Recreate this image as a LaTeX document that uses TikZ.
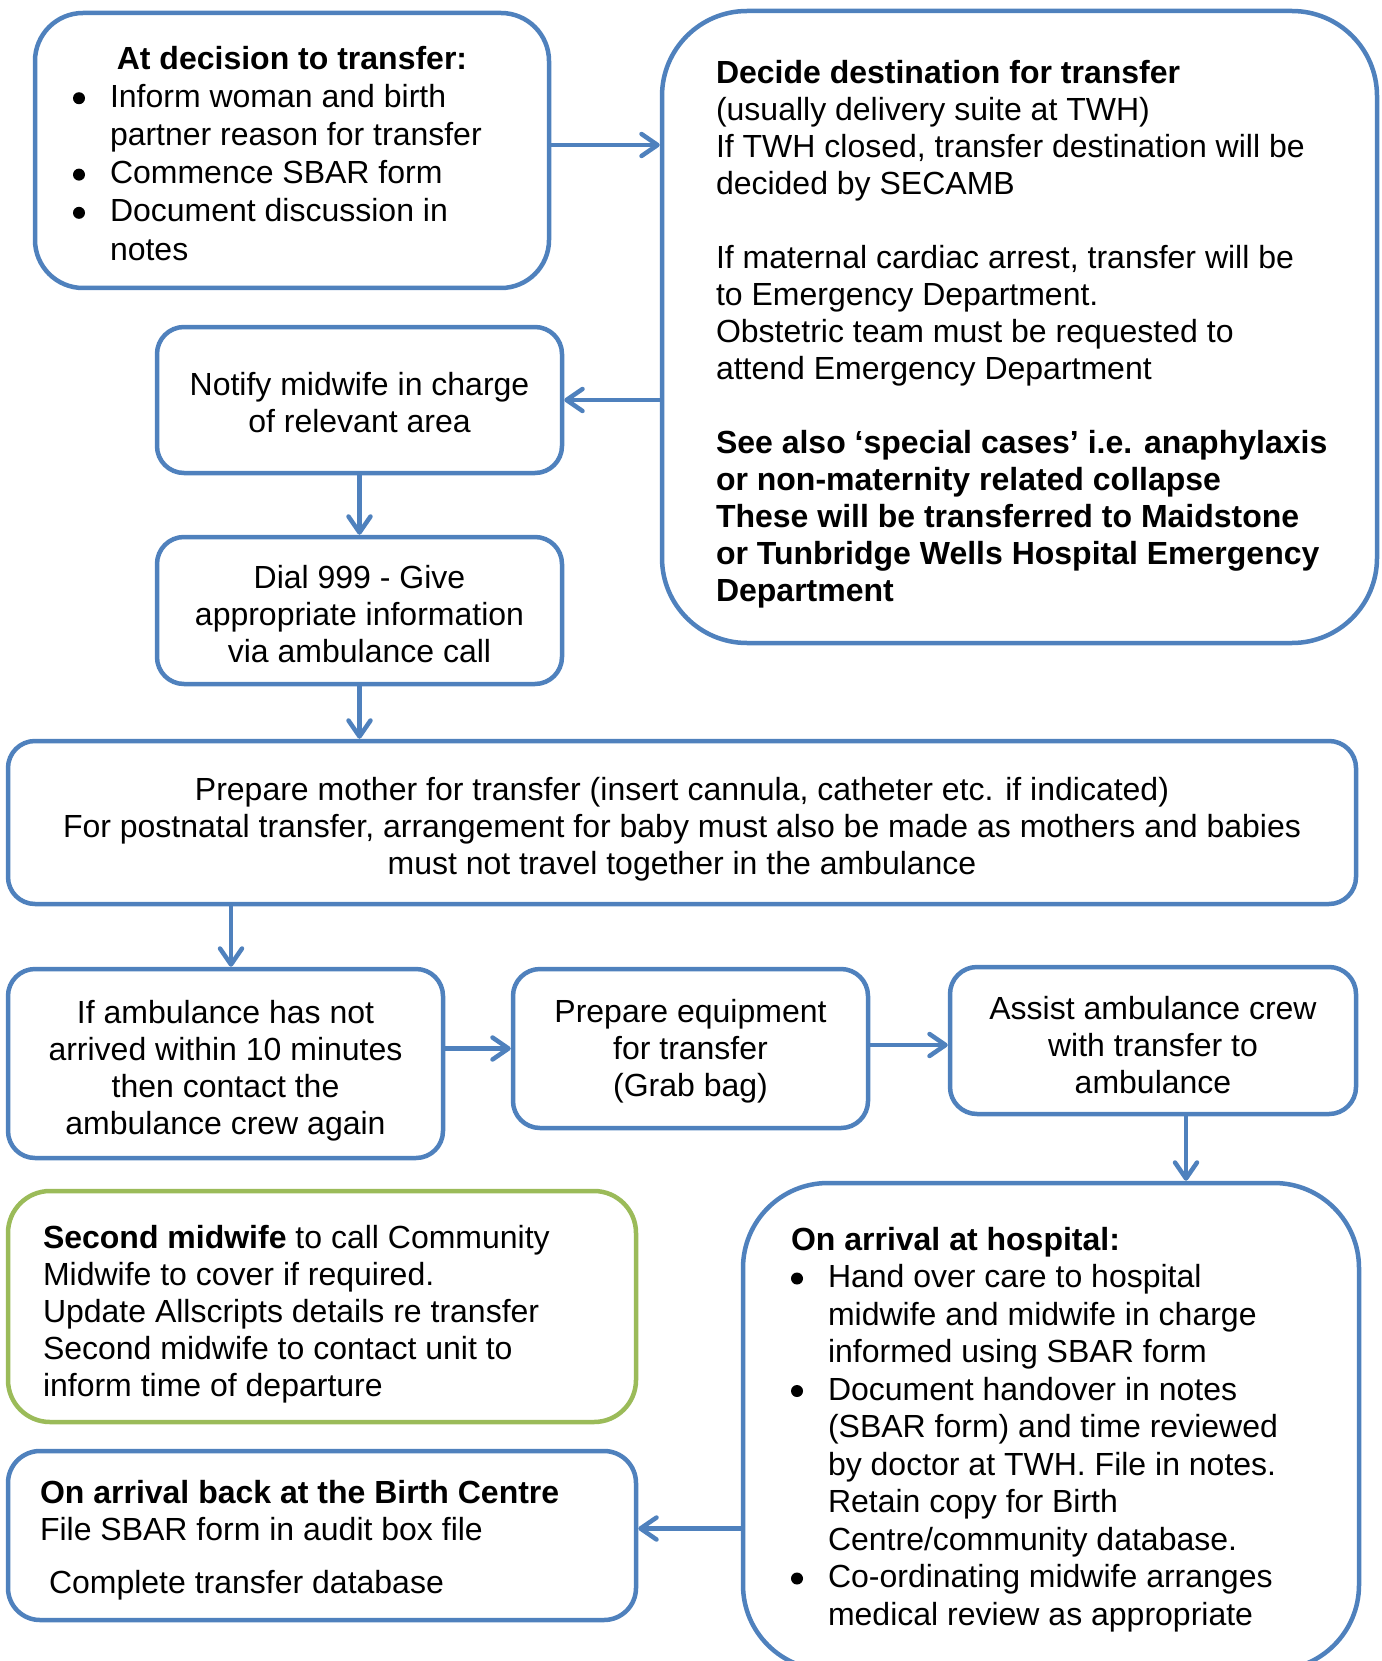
\documentclass[tikz,border=0pt]{standalone}
\usepackage{fontspec}
\setmainfont{Liberation Sans}
\usetikzlibrary{arrows.meta}
\definecolor{bblue}{HTML}{4F81BD}
\definecolor{bgreen}{HTML}{9BBB59}
\newcommand{\blt}{\makebox[37pt][l]{\tikz[baseline=0pt]\fill[black] (6pt,9pt) circle[radius=6pt];}}
\newcommand{\LB}[2]{\makebox[#1][l]{\begin{tabular}{@{}l@{}}#2\end{tabular}}}
\newcommand{\CB}[1]{\begin{tabular}{@{}c@{}}#1\end{tabular}}
\newcommand{\Dn}[2]{\raisebox{0pt}[\dimexpr\height+#1\relax][\depth]{#2}}
\begin{document}
\begin{tikzpicture}[x=1pt,y=-1pt,
  box/.style={draw=bblue, line width=4.5pt, fill=white, inner sep=0pt,
    font=\fontsize{32}{37}\selectfont},
  arr/.style={draw=bblue, line width=4.5pt,
    -{Straight Barb[length=16pt,width=22pt,round]}}]
\useasboundingbox (0,0) rectangle (1381,1661);

\node[box, rounded corners=48pt, minimum width=514pt, minimum height=275pt,
  font=\fontsize{32}{38.2}\selectfont] (A) at (292,150.5)
 {\Dn{12.8pt}{\makebox[438pt][l]{\begin{tabular}{@{}l@{}l@{}}
  \multicolumn{2}{@{}c@{}}{\makebox[438pt]{\bfseries At decision to transfer:}}\\
  \blt & Inform woman and birth\\
       & partner reason for transfer\\
  \blt & Commence SBAR form\\
  \blt & Document discussion in\\
       & notes
  \end{tabular}}}};

\node[box, rounded corners=85pt, minimum width=715pt, minimum height=632pt] (B) at (1019.5,327)
 {\Dn{17pt}{\LB{607pt}{\textbf{Decide destination for transfer}\\
  (usually delivery suite at TWH)\\
  If TWH closed, transfer destination will be\\
  decided by SECAMB\\
  \\
  If maternal cardiac arrest, transfer will be\\
  to Emergency Department.\\
  Obstetric team must be requested to\\
  attend Emergency Department\\
  \\
  \textbf{See also ‘special cases’ i.e. anaphylaxis}\\
  \textbf{or non-maternity related collapse}\\
  \textbf{These will be transferred to Maidstone}\\
  \textbf{or Tunbridge Wells Hospital Emergency}\\
  \textbf{Department}}}};

\node[box, rounded corners=27pt, minimum width=405pt, minimum height=146pt] (C) at (359.5,400)
 {\Dn{12.7pt}{\CB{Notify midwife in charge\\ of relevant area}}};

\node[box, rounded corners=27pt, minimum width=405pt, minimum height=147pt] (D) at (359.5,610.5)
 {\Dn{15pt}{\CB{Dial 999 - Give\\ appropriate information\\ via ambulance call}}};

\node[box, rounded corners=27pt, minimum width=1348pt, minimum height=163pt] (E) at (682,822.5)
 {\Dn{15pt}{\CB{Prepare mother for transfer (insert cannula, catheter etc. if indicated)\\
  For postnatal transfer, arrangement for baby must also be made as mothers and babies\\
  must not travel together in the ambulance}}};

\node[box, rounded corners=27pt, minimum width=435pt, minimum height=189pt] (F) at (225.5,1063.5)
 {\Dn{17pt}{\CB{If ambulance has not\\ arrived within 10 minutes\\ then contact the\\ ambulance crew again}}};

\node[box, rounded corners=27pt, minimum width=355pt, minimum height=159pt] (G) at (690.5,1048.5)
 {\Dn{6.4pt}{\CB{Prepare equipment\\ for transfer\\ (Grab bag)}}};

\node[box, rounded corners=27pt, minimum width=406pt, minimum height=147pt] (H) at (1153,1040.5)
 {\Dn{17pt}{\CB{Assist ambulance crew\\ with transfer to\\ ambulance}}};

\node[box, rounded corners=85pt, minimum width=616pt, minimum height=487pt,
  font=\fontsize{32}{37.5}\selectfont] (I) at (1051,1426.5)
 {\Dn{7pt}{\makebox[520pt][l]{\begin{tabular}{@{}l@{}l@{}}
  \multicolumn{2}{@{}l@{}}{\bfseries On arrival at hospital:}\\
  \blt & Hand over care to hospital\\
       & midwife and midwife in charge\\
       & informed using SBAR form\\
  \blt & Document handover in notes\\
       & (SBAR form) and time reviewed\\
       & by doctor at TWH. File in notes.\\
       & Retain copy for Birth\\
       & Centre/community database.\\
  \blt & Co-ordinating midwife arranges\\
       & medical review as appropriate
  \end{tabular}}}};

\node[box, draw=bgreen, rounded corners=42pt, minimum width=628pt, minimum height=231pt] (J) at (322,1306.5)
 {\Dn{17pt}{\LB{558pt}{\textbf{Second midwife} to call Community\\
  Midwife to cover if required.\\
  Update Allscripts details re transfer\\
  Second midwife to contact unit to\\
  inform time of departure}}};

\node[box, rounded corners=32pt, minimum width=628pt, minimum height=169pt] (K) at (322,1535.5)
 {\Dn{10.6pt}{\LB{564pt}{\textbf{On arrival back at the Birth Centre}\\
  File SBAR form in audit box file\\[16pt]
  \hspace*{9pt}Complete transfer database}}};

\coordinate (ab) at ([yshift=5.5pt]A.east);
\draw[arr] (ab) -- (ab -| B.west);
\draw[arr] (B.west |- C.east) -- (C.east);
\draw[arr] (C.south) -- (D.north);
\draw[arr] (D.south) -- (D.south |- E.north);
\coordinate (ef) at ([xshift=5.5pt]F.north);
\draw[arr] (ef |- E.south) -- (ef);
\draw[arr] (F.east |- G.west) -- (G.west);
\coordinate (gh) at ([yshift=3.5pt]G.east);
\draw[arr] (gh) -- (gh -| H.west);
\coordinate (hi) at ([xshift=33pt]H.south);
\draw[arr] (hi) -- (hi |- I.north);
\coordinate (ik) at ([yshift=7pt]K.east);
\draw[arr] (ik -| I.west) -- (ik);
\end{tikzpicture}
\end{document}
